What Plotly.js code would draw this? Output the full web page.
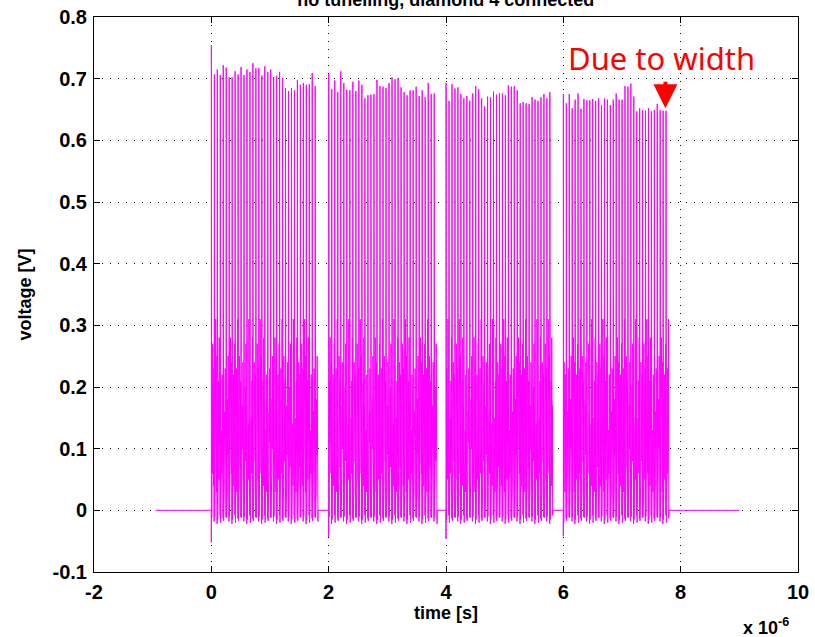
<!DOCTYPE html>
<html>
<head>
<meta charset="utf-8">
<script src="https://cdn.plot.ly/plotly-3.0.1.min.js"></script>
<style>html,body{margin:0;padding:0;background:#fff;}#chart{width:815px;height:637px;}</style>
</head>
<body>
<div id="chart"></div>
<script>
// ---- data (time in microseconds, voltage in V) ----
const burstStart = [0.0, 2.0, 4.0, 6.0];
const burstEnd   = [1.82, 3.85, 5.82, 7.80];
const firstDip   = [-0.052, -0.043, -0.046, -0.042];

const peaks1 = [0.754,0.707,0.715,0.706,0.722,0.718,0.702,0.702,0.712,0.707,0.719,0.706,
                0.715,0.711,0.725,0.717,0.717,0.705,0.720,0.711,0.715,0.703,0.705,0.711,
                0.701,0.685,0.680,0.685,0.681,0.698,0.690,0.693,0.690,0.691,0.709,0.688];
const peaks2 = [0.708,0.683,0.697,0.678,0.712,0.693,0.682,0.681,0.695,0.680,0.697,0.690,
                0.668,0.673,0.674,0.675,0.698,0.688,0.687,0.685,0.693,0.702,0.699,0.700,
                0.686,0.678,0.673,0.681,0.681,0.687,0.672,0.681,0.670,0.693,0.675,0.676];
const peaks3 = [0.693,0.664,0.691,0.684,0.686,0.675,0.668,0.672,0.664,0.676,0.688,0.683,
                0.668,0.655,0.671,0.670,0.679,0.674,0.676,0.676,0.673,0.689,0.687,0.688,
                0.681,0.660,0.662,0.660,0.659,0.670,0.666,0.664,0.670,0.675,0.668,0.678];
const peaks4 = [0.675,0.660,0.675,0.652,0.666,0.676,0.651,0.667,0.665,0.665,0.667,0.664,
                0.668,0.657,0.668,0.666,0.657,0.666,0.676,0.666,0.666,0.688,0.687,0.692,
                0.671,0.647,0.652,0.649,0.648,0.652,0.647,0.649,0.659,0.649,0.648,0.648];
const troughLevels = [-0.012,-0.018,-0.010,-0.022,-0.015,-0.008,-0.020,-0.013,-0.017,-0.011];
const ringHigh = [0.20,0.27,0.16,0.23,0.14,0.31,0.18,0.25,0.15,0.21,0.28,0.17,0.24,0.13,0.22];
const ringLow  = [0.06,0.10,0.04,0.12,0.08,0.03,0.09,0.05,0.11,0.07];
const leadIn  = [-0.95, 0.0];
const tailOut = 9.0;

const xTicks = [-2, 0, 2, 4, 6, 8, 10];
const yTicks = [-0.1, 0, 0.1, 0.2, 0.3, 0.4, 0.5, 0.6, 0.7, 0.8];

// ---- build trace from arrays ----
const peaks = [peaks1, peaks2, peaks3, peaks4];
const xs = [], ys = [];
xs.push(leadIn[0]); ys.push(0);
let ti = 0, hi = 0, li = 0;
const ringSteps = [0.26, 0.36, 0.46, 0.56, 0.66, 0.76, 0.86];
for (let b = 0; b < peaks.length; b++) {
  const p = peaks[b];
  const P = (burstEnd[b] - burstStart[b]) / p.length;
  xs.push(burstStart[b]); ys.push(0);
  xs.push(burstStart[b]); ys.push(firstDip[b]);
  for (let k = 0; k < p.length; k++) {
    const t = burstStart[b] + k * P;
    xs.push(t + 0.02 * P); ys.push(p[k]);
    xs.push(t + 0.14 * P); ys.push(troughLevels[ti++ % troughLevels.length]);
    ringSteps.forEach((s, j) => {
      xs.push(t + s * P);
      ys.push(j % 2 === 0 ? ringHigh[hi++ % ringHigh.length] : ringLow[li++ % ringLow.length]);
    });
    xs.push(t + 0.95 * P); ys.push(troughLevels[ti++ % troughLevels.length]);
  }
  xs.push(burstEnd[b]); ys.push(0);
}
xs.push(tailOut); ys.push(0);

const boldFont = {family: 'Liberation Sans, Arial, sans-serif', color: '#000', weight: 'bold'};

const trace = {
  x: xs, y: ys, type: 'scatter', mode: 'lines',
  line: {color: '#ff00ff', width: 1}, hoverinfo: 'skip'
};

const axisCommon = {
  showline: true, linecolor: '#000', linewidth: 1, mirror: 'allticks',
  ticks: 'inside', ticklen: 6, tickcolor: '#000',
  showgrid: true, gridcolor: '#000', griddash: '1px,7px', gridwidth: 1,
  zeroline: false, tickmode: 'array'
};

const layout = {
  width: 815, height: 637,
  margin: {l: 94, r: 17, t: 17, b: 65},
  paper_bgcolor: '#fff', plot_bgcolor: '#fff',
  showlegend: false,
  title: {text: 'no tunelling, diamond 4 connected', x: 0.547, xanchor: 'center',
          y: 1.0, yref: 'container', yanchor: 'middle',
          font: Object.assign({}, boldFont, {size: 18})},
  xaxis: Object.assign({}, axisCommon, {
    range: [-2, 10], tickvals: xTicks, ticktext: xTicks.map(String),
    tickfont: Object.assign({}, boldFont, {size: 20}),
    ticklabelstandoff: 2,
    title: {text: 'time [s]', font: Object.assign({}, boldFont, {size: 18}), standoff: 4}
  }),
  yaxis: Object.assign({}, axisCommon, {
    range: [-0.1, 0.8], tickvals: yTicks, ticktext: yTicks.map(v => String(v)),
    tickfont: Object.assign({}, boldFont, {size: 20}),
    ticklabelstandoff: 2,
    title: {text: 'voltage [V]', font: Object.assign({}, boldFont, {size: 18}), standoff: 16}
  }),
  annotations: [
    {text: 'x 10<sup>-6</sup>', xref: 'paper', yref: 'paper', x: 0.99, y: -0.073,
     xanchor: 'right', yanchor: 'top', showarrow: false,
     font: Object.assign({}, boldFont, {size: 18})},
    {text: 'Due to width', xref: 'x', yref: 'y', x: 7.68, y: 0.733,
     xanchor: 'center', yanchor: 'middle', showarrow: false,
     font: {family: 'Noto Sans, Open Sans, sans-serif', size: 31, color: '#ff0000'}},
    {text: '', xref: 'x', yref: 'y', x: 7.74, y: 0.652, showarrow: true,
     arrowhead: 2, arrowsize: 1.2, arrowwidth: 4, arrowcolor: '#ff0000',
     ax: 0, ay: -28}
  ]
};

Plotly.newPlot('chart', [trace], layout, {displayModeBar: false, staticPlot: true});
</script>
</body>
</html>
